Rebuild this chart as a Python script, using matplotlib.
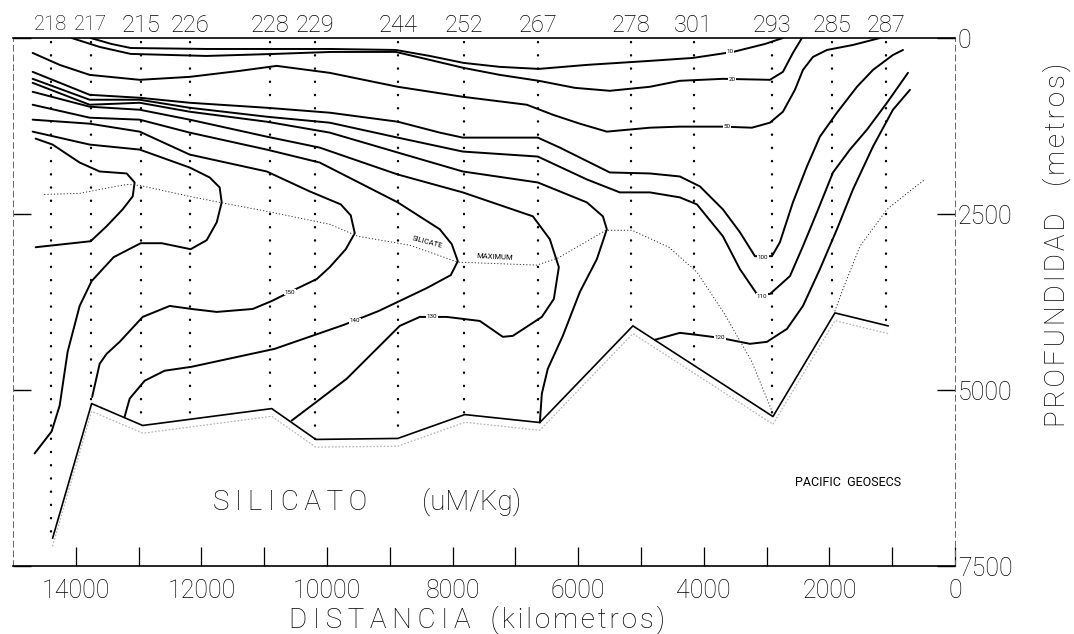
import matplotlib
matplotlib.use("Agg")
import matplotlib.pyplot as plt
import numpy as np

plt.rcParams['font.family'] = ['Roboto', 'DejaVu Sans']
plt.rcParams['font.weight'] = 'light'

# ---------------- data (distance in km, depth in m) ----------------
station_ids = ['218', '217', '215', '226', '228', '229', '244', '252',
               '267', '278', '301', '293', '285', '287']
station_km = [14400, 13765, 12965, 12185, 10910, 10195, 8875, 7820,
              6645, 5160, 4160, 2915, 1960, 1100]

xtick_values = [14000, 13000, 12000, 11000, 10000, 9000, 8000, 7000,
                6000, 5000, 4000, 3000, 2000, 1000, 0]
xtick_labels = ['14000', '', '12000', '', '10000', '', '8000', '',
                '6000', '', '4000', '', '2000', '', '0']
ytick_values = [0, 2500, 5000, 7500]
ytick_labels = ['0', '2500', '5000', '7500']

seafloor_km = [14369, 13748, 12935, 10880, 10179, 8873, 7806, 6611, 5129, 2899, 1912, 1067]
seafloor_m = [7103, 5193, 5504, 5264, 5702, 5688, 5349, 5462, 4089, 5377, 3905, 4089]

c10_km = [13764, 13430, 13126, 11916, 9940, 8905, 8363, 7822, 7248, 6627, 5862, 4859, 4174, 3536, 3027, 2740]
c10_m = [0, 85, 142, 156, 156, 170, 255, 354, 410, 439, 382, 325, 283, 198, 85, 0]

c20_km = [14066, 13620, 13126, 11916, 10832, 9940, 8905, 8363, 7822, 7248, 6627, 6053, 5496, 4859,
          4381, 3696, 2947, 2740, 2581, 2437]
c20_m = [0, 127, 226, 255, 226, 198, 198, 311, 425, 524, 608, 708, 750, 693, 608, 580, 594, 481, 212, 0]

c50_km = [14687, 14257, 13779, 12983, 12186, 11390, 10801, 9956, 8873, 7838, 6818, 6404, 5974, 5544,
          4859, 4381, 3696, 3234, 2947, 2740, 2549, 2421, 2262, 2039, 1625, 1195]
c50_m = [212, 382, 524, 594, 552, 467, 396, 495, 693, 835, 948, 1090, 1217, 1330, 1274, 1259, 1259,
         1274, 1203, 1047, 736, 453, 269, 170, 99, 0]

c100_km = [14687, 13779, 12983, 12186, 10960, 9956, 8873, 8204, 7838, 6643, 6292, 5496, 4859, 4381,
           4062, 3696, 3425, 3186, 2915, 2788, 2581, 2358, 2151, 1880, 1561, 1306, 988, 828]
c100_m = [481, 807, 849, 920, 991, 1061, 1189, 1344, 1415, 1415, 1557, 1910, 1924, 1967, 2108, 2434,
          2759, 3099, 3099, 2901, 2335, 1825, 1401, 1061, 693, 453, 241, 170]

c110_km = [14687, 13779, 12983, 12186, 10960, 9956, 8873, 7838, 6643, 5862, 5337, 4859, 4381, 4110,
           3696, 3425, 3154, 2947, 2628, 2421, 2198, 1943, 1673, 1402, 1083, 749]
c110_m = [580, 877, 877, 991, 1118, 1203, 1415, 1613, 1684, 2009, 2193, 2193, 2264, 2363, 2816, 3283,
          3637, 3637, 3382, 2957, 2476, 1910, 1585, 1302, 920, 495]

c120w_km = [14687, 13779, 12983, 12186, 10960, 9956, 8873, 7838, 6643, 5862, 5607, 5544, 5703, 5974,
            6245, 6484, 6579, 6611]
c120w_m = [637, 948, 920, 1047, 1189, 1344, 1627, 1896, 2052, 2335, 2533, 2717, 3141, 3608, 4231,
           4698, 5052, 5462]

c120e_km = [4779, 4381, 4110, 3744, 3266, 2995, 2676, 2421, 2151, 1880, 1625, 1306, 988, 717]
c120e_m = [4287, 4188, 4217, 4259, 4344, 4316, 4132, 3806, 3283, 2717, 2151, 1542, 1019, 736]

c130_km = [14687, 13779, 12983, 12186, 10960, 10116, 8873, 7838, 6722, 6452, 6308, 6388, 6579, 7041,
           7200, 7567, 8092, 8523, 8841, 9685, 10163, 10562]
c130_m = [764, 976, 1019, 1160, 1401, 1557, 1939, 2193, 2533, 2858, 3255, 3707, 3962, 4231, 4245,
          4019, 3962, 3962, 4089, 4839, 5165, 5434]

c140_km = [14687, 13779, 12983, 12186, 10960, 10116, 8873, 8204, 8013, 7917, 8029, 8411, 9176, 9733,
           10832, 12155, 12585, 12903, 13142, 13222]
c140_m = [948, 1132, 1160, 1344, 1585, 1769, 2335, 2717, 2929, 3170, 3368, 3552, 3877, 4075, 4415,
          4670, 4726, 4868, 5122, 5377]

c150_km = [14687, 13779, 12983, 12186, 10960, 10275, 9781, 9622, 9558, 9701, 9956, 10163, 10593,
           10880, 11183, 11756, 12155, 12505, 12935, 13302, 13509, 13620, 13740]
c150_m = [1160, 1217, 1330, 1656, 1896, 2179, 2363, 2519, 2773, 3000, 3255, 3424, 3608, 3736, 3849,
          3891, 3849, 3806, 3962, 4316, 4486, 4627, 5100]

c160_km = [14687, 13779, 12983, 12186, 11868, 11709, 11677, 11756, 11916, 12171, 12632, 12967, 13397,
           13748, 13939, 14130, 14257, 14385, 14656]
c160_m = [1330, 1514, 1585, 1840, 1981, 2123, 2335, 2618, 2872, 3000, 2915, 2915, 3113, 3453, 3806,
          4457, 5221, 5589, 5901]

c170_km = [14640, 14369, 13939, 13620, 13190, 13063, 13094, 13254, 13509, 13764, 14640]
c170_m = [1429, 1514, 1769, 1896, 1924, 2052, 2250, 2434, 2674, 2887, 2972]

simax_km = [14496, 13939, 13620, 13190, 12983, 12186, 11709, 10960, 9956, 9510, 8682, 7917, 6659,
            6324, 5560, 5145, 4556, 4110, 3680, 3234, 2899]
simax_m = [2222, 2207, 2151, 2080, 2094, 2250, 2335, 2462, 2646, 2816, 2943, 3184, 3226, 3127, 2731,
           2731, 2972, 3325, 3905, 4599, 5335]
simax_east_km = [1912, 1784, 1513, 1083, 685, 478]
simax_east_m = [3877, 3566, 2957, 2434, 2151, 2009]

contours = [(c10_km, c10_m), (c20_km, c20_m), (c50_km, c50_m), (c100_km, c100_m),
            (c110_km, c110_m), (c120w_km, c120w_m), (c120e_km, c120e_m), (c130_km, c130_m),
            (c140_km, c140_m), (c150_km, c150_m), (c160_km, c160_m), (c170_km, c170_m)]


def spaced(word, sep):
    return sep.join(word)


THIN = '\u2009'
HAIR = '\u200a'

# ---------------- figure ----------------
W, H = 1074, 634
fig = plt.figure(figsize=(W / 100, H / 100), dpi=100)
ax = fig.add_axes([13 / W, 1 - 566 / H, 942 / W, 528 / H])
ax.set_xlim(15000, 0)
ax.set_ylim(7500, 0)

# station dotted verticals down to the sea floor
sf_x = np.array(seafloor_km[::-1], dtype=float)
sf_y = np.array(seafloor_m[::-1], dtype=float)
for km in station_km:
    bottom = np.interp(km, sf_x, sf_y)
    ax.plot([km, km], [60, bottom], color='k', lw=1.7, linestyle=(0, (0.1, 5.5)),
            dash_capstyle='round')

# contours
for xs, ys in contours:
    ax.plot(xs, ys, color='k', lw=1.4, solid_joinstyle='round', solid_capstyle='round')

# sea floor
ax.plot(seafloor_km, seafloor_m, color='k', lw=1.2)
ax.plot(seafloor_km, np.array(seafloor_m) + 110, color='0.72', lw=1.0,
        linestyle=(0, (0.5, 2)), dash_capstyle='round')

# silicate maximum
ax.plot(simax_km, simax_m, color='0.2', lw=0.8, linestyle=(0, (0.3, 2.6)), dash_capstyle='round')
ax.plot(simax_east_km, simax_east_m, color='0.2', lw=0.8, linestyle=(0, (0.3, 2.6)),
        dash_capstyle='round')
ax.text(8395, 2901, 'SILICATE', rotation=-15, fontsize=5.5, ha='center', va='center',
        fontweight='normal')
ax.text(7328, 3113, 'MAXIMUM', rotation=-3, fontsize=5.5, ha='center', va='center',
        fontweight='normal')

# contour labels
clabels = [(3584, 198, '10'), (3552, 594, '20'), (3632, 1259, '50'), (3059, 3113, '100'),
           (3074, 3665, '110'), (3744, 4259, '120'), (8331, 3962, '130'), (9558, 4019, '140'),
           (10593, 3608, '150')]
for x, y, t in clabels:
    ax.text(x, y, t, fontsize=4.5, ha='center', va='center', fontweight='normal',
            bbox=dict(fc='white', ec='none', pad=0.4))

# station labels on top (the two western ones are hand-lettered narrower)
for km, sid in zip(station_km, station_ids):
    fs = 14.5 if sid in ('218', '217') else 17
    ax.text(km, (566 - 25) / 528, sid, transform=ax.get_xaxis_transform(), ha='center',
            va='center', fontsize=fs)

# axes / ticks
ax.set_xticks(xtick_values)
ax.set_xticklabels(xtick_labels)
ax.tick_params(axis='x', direction='in', length=14, width=0.9, pad=9, labelsize=18)
ax.set_yticks(ytick_values)
ax.set_yticklabels(ytick_labels)
ax.tick_params(axis='y', direction='in', length=13, width=1.0, left=True, right=True,
               labelleft=False, labelright=True, pad=2, labelsize=18)
for s in ['left', 'right']:
    ax.spines[s].set_linestyle((0, (6, 4)))
    ax.spines[s].set_color('0.4')
    ax.spines[s].set_linewidth(0.7)
for s in ['top', 'bottom']:
    ax.spines[s].set_linewidth(1.2)

# texts
fig.text(213 / W, 1 - 502 / H, spaced('SILICATO', THIN), fontsize=20, ha='left', va='center')
fig.text(422 / W, 1 - 502 / H, '(uM/Kg)', fontsize=20, ha='left', va='center')
fig.text(848 / W, 1 - 483 / H, 'PACIFIC  GEOSECS', fontsize=9, ha='center', va='center',
         fontweight='normal')
fig.text(289 / W, 1 - 628 / H,
         spaced('DISTANCIA', THIN) + '   ' + spaced('(kilometros)', HAIR),
         fontsize=20, ha='left', va='baseline')
fig.text(1057 / W, 1 - 245 / H,
         spaced('PROFUNDIDAD', HAIR) + '    ' + spaced('(metros)', HAIR),
         fontsize=20, rotation=90, ha='center', va='center')

fig.savefig('out.png', dpi=100)
